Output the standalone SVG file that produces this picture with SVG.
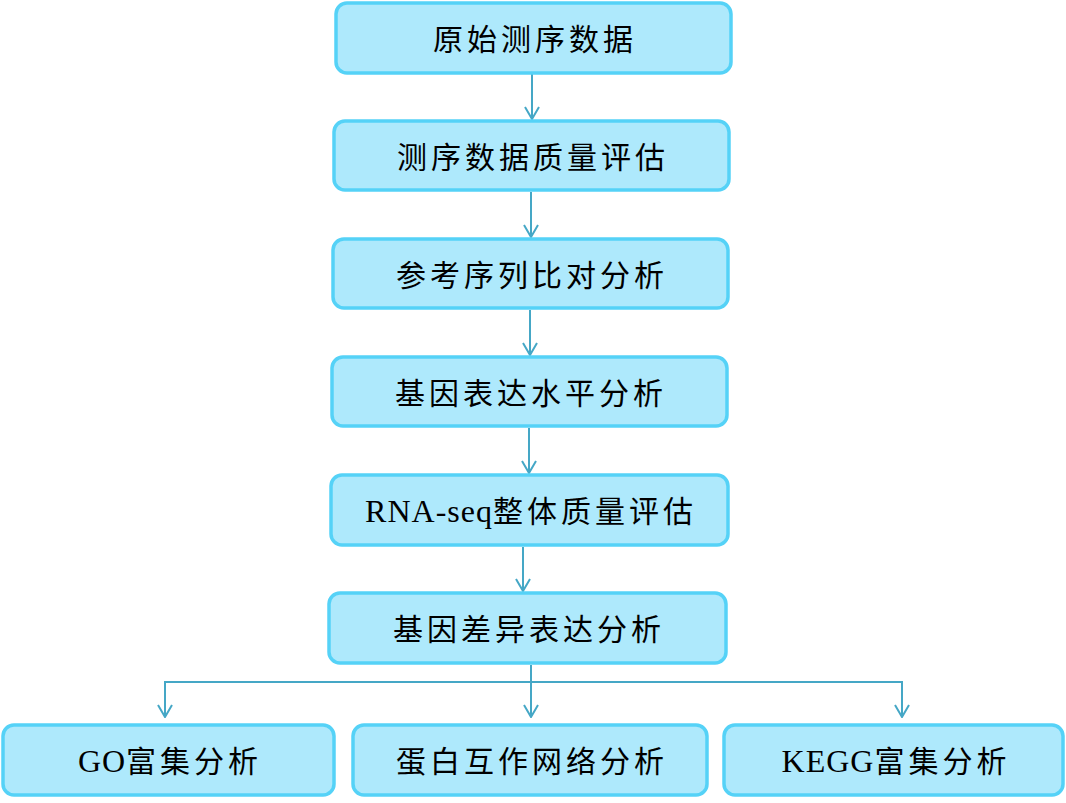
<svg xmlns="http://www.w3.org/2000/svg" width="1066" height="803" viewBox="0 0 1066 803">
<defs>
<style>
.box{fill:#aee9fc;stroke:#55d2f7;stroke-width:3.5}
.t{font-family:"Liberation Serif","Noto Sans CJK SC",serif;font-size:30px;letter-spacing:4px;text-anchor:middle;fill:#000}
.l{font-size:32px;letter-spacing:1px}
.c{fill:none;stroke:#45a7c6;stroke-width:2}
</style>
<marker id="ah" viewBox="0 0 14 16" refX="13" refY="8" markerWidth="14" markerHeight="16" markerUnits="userSpaceOnUse" orient="auto-start-reverse">
<path d="M1,1 L13,8 L1,15" fill="none" stroke="#45a7c6" stroke-width="2"/>
</marker>
</defs>
<rect width="1066" height="803" fill="#fff"/>
<g id="connectors">
<path class="c" d="M532,74 V119" marker-end="url(#ah)"/>
<path class="c" d="M531,192 V237" marker-end="url(#ah)"/>
<path class="c" d="M530,310 V355" marker-end="url(#ah)"/>
<path class="c" d="M529,428 V473" marker-end="url(#ah)"/>
<path class="c" d="M523,547 V591" marker-end="url(#ah)"/>
<path class="c" d="M531,665 V717" marker-end="url(#ah)"/>
<path class="c" d="M165,717 V682 H902 V717" marker-start="url(#ah)" marker-end="url(#ah)"/>
</g>
<g id="n1"><rect class="box" x="336" y="3" width="395" height="70" rx="11"/><text class="t" x="535" y="50">原始测序数据</text></g>
<g id="n2"><rect class="box" x="334" y="121" width="395" height="69" rx="11"/><text class="t" x="533" y="168">测序数据质量评估</text></g>
<g id="n3"><rect class="box" x="333" y="239" width="395" height="69" rx="11"/><text class="t" x="532" y="286">参考序列比对分析</text></g>
<g id="n4"><rect class="box" x="332" y="357" width="395" height="69" rx="11"/><text class="t" x="531" y="404">基因表达水平分析</text></g>
<g id="n5"><rect class="box" x="331" y="475" width="397" height="70" rx="11"/><text class="t" x="531" y="522"><tspan class="l">RNA-seq</tspan>整体质量评估</text></g>
<g id="n6"><rect class="box" x="329" y="593" width="397" height="70" rx="11"/><text class="t" x="529" y="640">基因差异表达分析</text></g>
<g id="n7"><rect class="box" x="3" y="725" width="331" height="70" rx="11"/><text class="t" x="170" y="772"><tspan class="l">GO</tspan>富集分析</text></g>
<g id="n8"><rect class="box" x="353" y="725" width="354" height="70" rx="11"/><text class="t" x="532" y="772">蛋白互作网络分析</text></g>
<g id="n9"><rect class="box" x="724" y="725" width="339" height="70" rx="11"/><text class="t" x="896" y="772"><tspan class="l">KEGG</tspan>富集分析</text></g>
</svg>
